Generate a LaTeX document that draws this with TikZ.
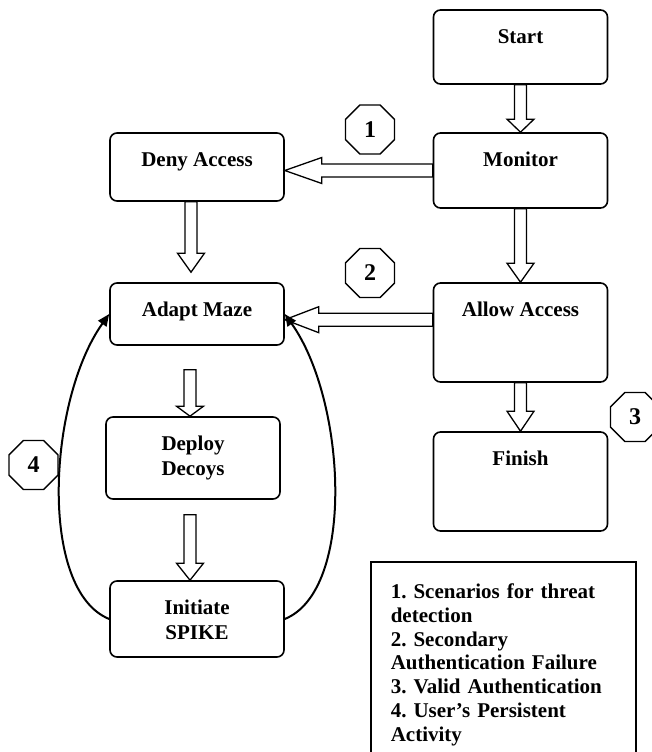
\documentclass[tikz,border=0pt]{standalone}
\usepackage{fontspec}
\setmainfont{Liberation Serif}
\usetikzlibrary{calc,shapes.geometric,arrows.meta}
\frenchspacing

\tikzset{
  flowbox/.style={draw, line width=1.6pt, rounded corners=7pt, minimum width=174pt, inner sep=0pt},
  boxtext/.style={font=\fontsize{21}{25}\selectfont\bfseries, align=center, anchor=north, inner sep=0pt, yshift=-20pt},
  blockline/.style={draw, line width=1.3pt, line join=miter, fill=white},
  loopline/.style={line width=2pt, -{Triangle[length=12pt,width=10pt]}},
  octa/.style={draw, line width=1.3pt, regular polygon, regular polygon sides=8, minimum size=53pt, inner sep=0pt, font=\fontsize{24}{24}\selectfont\bfseries},
  legendbox/.style={draw, line width=1.6pt, text width=225pt, align=left, inner xsep=20pt, inner ysep=22pt, font=\fontsize{21}{23.8}\selectfont\bfseries}
}

% hollow block arrows: tail, tip, head length
\newcommand{\blockdown}[3]{%
  \draw[blockline] ($(#1)+(-6,0)$) -- ($(#1 |- #2)+(-6,-#3)$) -- ($(#1 |- #2)+(-13.5,-#3)$)
    -- (#1 |- #2) -- ($(#1 |- #2)+(13.5,-#3)$) -- ($(#1 |- #2)+(6,-#3)$) -- ($(#1)+(6,0)$) -- cycle;}
\newcommand{\blockleft}[3]{%
  \draw[blockline] ($(#1)+(0,-6.5)$) -- ($(#2 |- #1)+(#3,-6.5)$) -- ($(#2 |- #1)+(#3,-13)$)
    -- (#2 |- #1) -- ($(#2 |- #1)+(#3,13)$) -- ($(#2 |- #1)+(#3,6.5)$) -- ($(#1)+(0,6.5)$) -- cycle;}

\begin{document}
\begin{tikzpicture}[x=1pt, y=-1pt]
\useasboundingbox (0,0) rectangle (651,752);

% Right column
\node[flowbox, minimum height=74pt, label={[boxtext]north:Start}] (start) at (520.5,47) {};
\node[flowbox, minimum height=75pt, label={[boxtext]north:Monitor}] (monitor) at (520.5,170.5) {};
\node[flowbox, minimum height=99pt, label={[boxtext]north:Allow Access}] (allow) at (520.5,332.5) {};
\node[flowbox, minimum height=99pt, label={[boxtext]north:Finish}] (finish) at (520.5,481.5) {};

% Left column
\node[flowbox, minimum height=68pt, label={[boxtext]north:Deny Access}] (deny) at (197,167) {};
\node[flowbox, minimum height=62pt, label={[boxtext]north:Adapt Maze}] (maze) at (197,314) {};
\node[flowbox, minimum height=82pt, label={[boxtext]north:{Deploy\\Decoys}}] (deploy) at (193,458) {};
\node[flowbox, minimum height=76pt, label={[boxtext]north:{Initiate\\SPIKE}}] (spike) at (197,619) {};

% Arrow ends
\coordinate (allow-out) at ($(allow.north west)+(0,37.5)$);
\coordinate (deny-out) at ($(deny.south)+(-6,0)$);
\coordinate (maze-in) at ($(maze.north)+(-6,-10)$);
\coordinate (maze-out) at ($(maze.south)+(-7,24)$);
\coordinate (deploy-out) at ($(deploy.south)+(-3,15)$);

% Block arrows
\blockdown{start.south}{monitor.north}{13}
\blockdown{monitor.south}{allow.north}{19}
\blockdown{allow.south}{finish.north}{20}
\blockdown{deny-out}{maze-in}{19}
\blockdown{maze-out}{deploy.north}{10}
\blockdown{deploy-out}{spike.north}{17}
\blockleft{monitor.west}{deny.east}{37}
\blockleft{allow-out}{maze.east}{34}

% Loop back to Adapt Maze
\draw[loopline] (spike.west) .. controls (38,590) and (48,400) .. (maze.west);
\draw[loopline] (spike.east) .. controls (356,590) and (346,400) .. (maze.east);

% Scenario markers
\node[octa] (oct1) at (370,129.5) {1};
\node[octa] (oct2) at (370,273) {2};
\node[octa] (oct3) at (635,417) {3};
\node[octa] (oct4) at (33.5,465) {4};

% Legend
\node[legendbox, anchor=north west] (legend) at (370,561) {1. Scenarios for threat\\detection\\2. Secondary\\Authentication Failure\\3. Valid Authentication\\4. User’s Persistent\\Activity};

\end{tikzpicture}
\end{document}
